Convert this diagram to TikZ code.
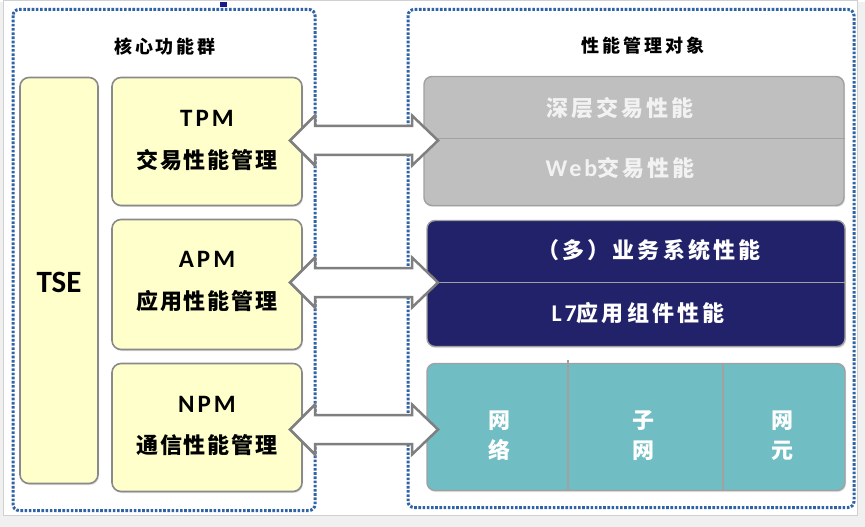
\documentclass[tikz,border=0pt]{standalone}
\usepackage{fontspec}
\setmainfont{Noto Sans CJK SC}
\newfontfamily\lat{Carlito}
\usetikzlibrary{shadows}
\definecolor{dotblue}{HTML}{2F63A6}
\definecolor{ybox}{HTML}{FFFFCC}
\definecolor{bordergrey}{HTML}{8A8A8A}
\definecolor{greybox}{HTML}{BFBFBF}
\definecolor{navy}{HTML}{22226A}
\definecolor{teal}{HTML}{70BDC4}
\definecolor{frameout}{HTML}{F0F0F0}
\definecolor{frameline}{HTML}{D0D0D0}
\definecolor{arrowgrey}{HTML}{7F7F7F}
\tikzset{
  dotbox/.style={draw=dotblue, line width=3pt, dash pattern=on 2.6pt off 1.6pt, rounded corners=6pt},
  yellowbox/.style={draw=bordergrey, line width=1.6pt, fill=ybox, rounded corners=9pt,
     drop shadow={shadow xshift=1pt, shadow yshift=-1.5pt, opacity=0.25}},
  rbox/.style={draw=bordergrey!80, line width=1.4pt, rounded corners=8pt,
     drop shadow={shadow xshift=1pt, shadow yshift=-1.5pt, opacity=0.25}},
  divider/.style={draw=bordergrey!80, line width=1.2pt},
  blockarrow/.style={draw=arrowgrey, line width=2.5pt, fill=white, line join=miter},
  title/.style={font=\fontsize{18}{20}\selectfont\bfseries\addfontfeature{LetterSpace=16}},
  latlabel/.style={font=\lat\fontsize{25}{28}\selectfont\bfseries\addfontfeature{LetterSpace=12}},
  cjklabel/.style={font=\fontsize{22}{24}\selectfont\bfseries\addfontfeature{LetterSpace=9}},
  wlabel/.style={text=white, font=\fontsize{22}{24}\selectfont\bfseries\addfontfeature{LetterSpace=14}},
  vlabel/.style={text=white, align=center, font=\fontsize{22}{30}\selectfont\bfseries},
}
\newcommand{\latin}[1]{{\lat\fontsize{24}{24}\selectfont\bfseries\addfontfeature{LetterSpace=12}#1}}
\newcommand{\dblarrow}[1]{%
  \draw[blockarrow] (290,#1) -- (315,#1-25) -- (315,#1-14.5) -- (412,#1-14.5) -- (412,#1-25)
    -- (438,#1) -- (412,#1+25) -- (412,#1+14.5) -- (315,#1+14.5) -- (315,#1+25) -- cycle;}
\begin{document}
\begin{tikzpicture}[x=1pt, y=-1pt]
% screenshot frame
\fill[frameout] (0,0) rectangle (865,524);
\draw[frameline, fill=white, line width=1pt] (3,-2) rectangle (857,513);
\useasboundingbox (0,0) rectangle (865,524);
\fill[navy!80!blue] (220,0) rectangle (227,5);

% dotted group boxes
\draw[dotbox] (13,7) rectangle (315,508);
\draw[dotbox] (408,7) rectangle (854,505);
\node[title] (t1) at (165,44) {核心功能群};
\node[title] (t2) at (643,43) {性能管理对象};

% left boxes
\draw[yellowbox] (20,75) rectangle (98,481);
\node[latlabel, font=\lat\fontsize{31}{34}\selectfont\bfseries] (tse) at (59,280) {TSE};

\draw[yellowbox] (112,75) rectangle (302,203);
\draw[yellowbox] (112,217) rectangle (302,347);
\draw[yellowbox] (112,361) rectangle (302,489);
\node[latlabel] (tpm) at (207,116) {TPM};
\node[cjklabel] (tpmc) at (207,158) {交易性能管理};
\node[latlabel] (apm) at (207,257) {APM};
\node[cjklabel] (apmc) at (207,299) {应用性能管理};
\node[latlabel] (npm) at (207,402) {NPM};
\node[cjklabel] (npmc) at (207,443) {通信性能管理};

% right boxes
\draw[rbox, fill=greybox] (424,74) rectangle (844,203);
\draw[divider] (424,136) -- (845,136);
\node[wlabel, text=white!95!black] (g1) at (620,106) {深层交易性能};
\node[wlabel, text=white!95!black] (g2) at (620,166) {\latin{Web}交易性能};

\draw[rbox, fill=navy] (427,218) rectangle (845,344);
\draw[divider] (427,280) -- (845,280);
\node[wlabel] (n1) at (649,248) {（多）业务系统性能};
\node[wlabel] (n2) at (638,311) {\latin{L7}应用组件性能};

\draw[rbox, fill=teal] (427,361) rectangle (845,488);
\draw[divider] (568,357) -- (568,488);
\draw[divider] (723,361) -- (723,488);
\node[vlabel] (c1) at (499,433) {网\\络};
\node[vlabel] (c2) at (643,433) {子\\网};
\node[vlabel] (c3) at (782,433) {网\\元};

% block arrows
\dblarrow{138}
\dblarrow{280}
\dblarrow{427}
\end{tikzpicture}
\end{document}
